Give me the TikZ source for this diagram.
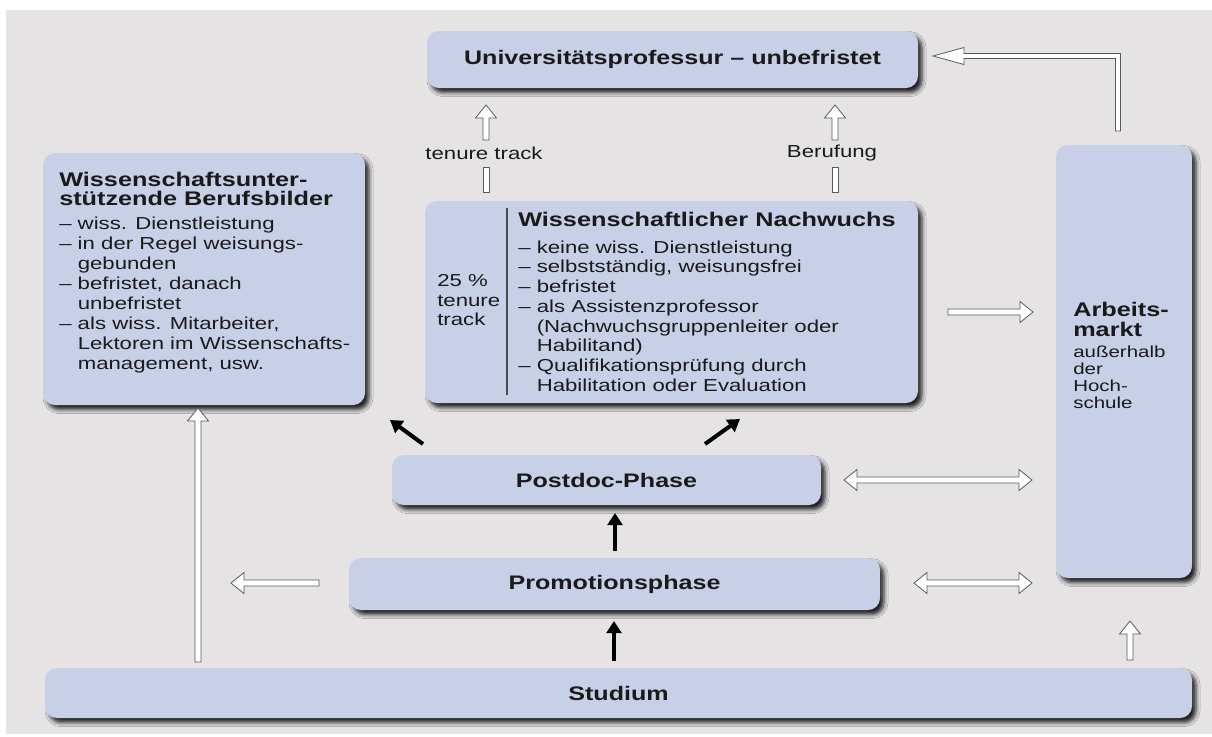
\documentclass[tikz,border=0pt]{standalone}
\usepackage{fontspec}
\setmainfont{Liberation Sans}[FakeStretch=1.28]
\usetikzlibrary{arrows.meta,shadows.blur,calc}
\definecolor{bg}{HTML}{E6E3E5}
\definecolor{boxc}{HTML}{C8D0E8}
\definecolor{edge}{HTML}{5A5A5A}
\definecolor{txt}{HTML}{1A1A1A}
\newcommand{\ttlfont}{\fontsize{14.7}{17}\selectfont\bfseries}
\newcommand{\hdfont}{\fontsize{14.8}{14.25}\selectfont\bfseries}
\newcommand{\lstfont}{\fontsize{13}{15}\selectfont}
\newcommand{\smfont}{\fontsize{12}{12.75}\selectfont}
\tikzset{
  box/.style={fill=boxc, draw=none, rounded corners=9pt, inner sep=0pt, font=\ttlfont, text=txt,
    blur shadow={shadow xshift=3pt, shadow yshift=-3.5pt, shadow blur radius=3pt, shadow opacity=85}},
  txtblock/.style={anchor=north west, align=left, inner sep=0pt, text=txt},
  hol/.style={draw=edge, fill=white, line width=0.6pt, line join=miter},
  blk/.style={draw=black, line width=3pt, -{Triangle[length=9pt, width=11pt]}},
}
% hollow arrows: #1 = start, #2 = tip
\newcommand{\hollowR}[2]{\filldraw[hol] (#2) -- ++(-13,-10.5) -- ++(0,7.5) -- ($(#1)+(0,-3)$) -- ++(0,6) -- ($(#2)+(-13,3)$) -- ++(0,7.5) -- cycle;}
\newcommand{\hollowL}[2]{\filldraw[hol] (#2) -- ++(13,-10.5) -- ++(0,7.5) -- ($(#1)+(0,-3)$) -- ++(0,6) -- ($(#2)+(13,3)$) -- ++(0,7.5) -- cycle;}
\newcommand{\hollowU}[2]{\filldraw[hol] (#2) -- ++(-10.5,13) -- ++(7.5,0) -- ($(#1)+(-3,0)$) -- ++(6,0) -- ($(#2)+(3,13)$) -- ++(7.5,0) -- cycle;}
\newcommand{\hollowLR}[2]{\filldraw[hol] (#2) -- ++(-13,-10.5) -- ++(0,7.5) -- ($(#1)+(13,-3)$) -- ++(0,-7.5) -- (#1) -- ++(13,10.5) -- ++(0,-7.5) -- ($(#2)+(-13,3)$) -- ++(0,7.5) -- cycle;}
\newcommand{\hollowbar}[2]{\filldraw[hol] ($(#1)+(-3,0)$) rectangle ($(#2)+(3,0)$);}
\begin{document}
\begin{tikzpicture}[x=0.75pt,y=-0.75pt]
\fill[white] (0,0) rectangle (1212,736);
\fill[bg] (6,10) rectangle (1212,734);
\useasboundingbox (0,0) rectangle (1212,736);

% boxes
\node[box, minimum width=491*0.75pt, minimum height=57*0.75pt] (prof) at (672.5,59.5) {Universitätsprofessur – unbefristet};
\node[box, minimum width=322*0.75pt, minimum height=252*0.75pt] (left) at (204,279) {};
\node[box, minimum width=493*0.75pt, minimum height=202*0.75pt] (nach) at (671.5,302) {};
\node[box, minimum width=136*0.75pt, minimum height=433*0.75pt] (arb) at (1124,361.5) {};
\node[box, minimum width=429*0.75pt, minimum height=50*0.75pt] (postdoc) at (606.5,480) {Postdoc-Phase};
\node[box, minimum width=531*0.75pt, minimum height=52*0.75pt] (promo) at (614.5,584) {Promotionsphase};
\node[box, minimum width=1147*0.75pt, minimum height=50*0.75pt] (stud) at (618.5,693) {Studium};

% left box text
\node[txtblock, font=\hdfont] (lhead) at (59,172.4) {Wissenschaftsunter-\\stützende Berufsbilder};
\node[txtblock, font=\lstfont] (llist) at (59,216.5) {– wiss. Dienstleistung\\– in der Regel weisungs-\\\phantom{– }gebunden\\– befristet, danach\\\phantom{– }unbefristet\\– als wiss. Mitarbeiter,\\\phantom{– }Lektoren im Wissenschafts-\\\phantom{– }management, usw.};

% Nachwuchs text
\node[txtblock, font=\hdfont] (nhead) at (518,212.4) {Wissenschaftlicher Nachwuchs};
\node[txtblock, font=\fontsize{13}{14.8}\selectfont] (nlist) at (518,240.4) {– keine wiss. Dienstleistung\\– selbstständig, weisungsfrei\\– befristet\\– als Assistenzprofessor\\\phantom{– }(Nachwuchsgruppenleiter oder\\\phantom{– }Habilitand)\\– Qualifikationsprüfung durch\\\phantom{– }Habilitation oder Evaluation};
\node[txtblock, font=\fontsize{13}{14.6}\selectfont] (pct) at (437,274.6) {25 \%\\tenure\\track};
\coordinate (dv1) at (507,208);
\coordinate (dv2) at (507,395);
\draw[line width=0.9pt, black!70] (dv1) -- (dv2);

% Arbeitsmarkt text
\node[txtblock, font=\fontsize{14.8}{15}\selectfont\bfseries] (ahead) at (1073,302.4) {Arbeits-\\markt};
\node[txtblock, font=\smfont] (asub) at (1073,345.3) {außerhalb\\der\\Hoch-\\schule};

% labels
\node[inner sep=0pt, font=\lstfont, text=txt] (tt) at (484,153) {tenure track};
\node[inner sep=0pt, font=\lstfont, text=txt] (ber) at (832,153) {Berufung};

% tenure track / Berufung arrows
\coordinate (tta) at (486,140); \coordinate (ttb) at (486,105);
\coordinate (ttc) at (486,192); \coordinate (ttd) at (486,167);
\coordinate (bea) at (835,140); \coordinate (beb) at (835,105);
\coordinate (bec) at (835,192); \coordinate (bed) at (835,167);
\hollowU{tta}{ttb}
\hollowbar{ttc}{ttd}
\hollowU{bea}{beb}
\hollowbar{bec}{bed}

% top right arrow (Arbeitsmarkt -> Universitaetsprofessur)
\coordinate (tr1) at (1118,131);
\coordinate (tr2) at (1118,56);
\coordinate (tr3) at (933,56);
\filldraw[hol] (tr3) -- ++(31,-8.5) -- ++(0,6) -- ($(tr2)+(2.5,-2.5)$) -- ($(tr1)+(2.5,0)$) -- ++(-5,0) -- ($(tr2)+(-2.5,2.5)$) -- ($(tr3)+(31,2.5)$) -- ++(0,6) -- cycle;

% Nachwuchs -> Arbeitsmarkt
\coordinate (na1) at (948,312); \coordinate (na2) at (1033,312);
\hollowR{na1}{na2}

% Postdoc <-> Arbeitsmarkt
\coordinate (pa1) at (844,480); \coordinate (pa2) at (1032,480);
\hollowLR{pa1}{pa2}

% Promotion <-> Arbeitsmarkt
\coordinate (ma1) at (914,583); \coordinate (ma2) at (1032,583);
\hollowLR{ma1}{ma2}

% Promotion -> left
\coordinate (ml1) at (319,583); \coordinate (ml2) at (231,583);
\hollowL{ml1}{ml2}

% Studium -> left box
\coordinate (sl1) at (198,662); \coordinate (sl2) at (198,408);
\hollowU{sl1}{sl2}

% Studium -> Arbeitsmarkt
\coordinate (sa1) at (1130,660); \coordinate (sa2) at (1130,621);
\hollowU{sa1}{sa2}

% black arrows
\coordinate (b1a) at (615,551); \coordinate (b1b) at (615,513);
\coordinate (b2a) at (614,661); \coordinate (b2b) at (614,621);
\coordinate (b3a) at (423,444); \coordinate (b3b) at (390,420);
\coordinate (b4a) at (705,444); \coordinate (b4b) at (740,419);
\draw[blk] (b1a) -- (b1b);
\draw[blk] (b2a) -- (b2b);
\draw[blk] (b3a) -- (b3b);
\draw[blk] (b4a) -- (b4b);
\end{tikzpicture}
\end{document}
